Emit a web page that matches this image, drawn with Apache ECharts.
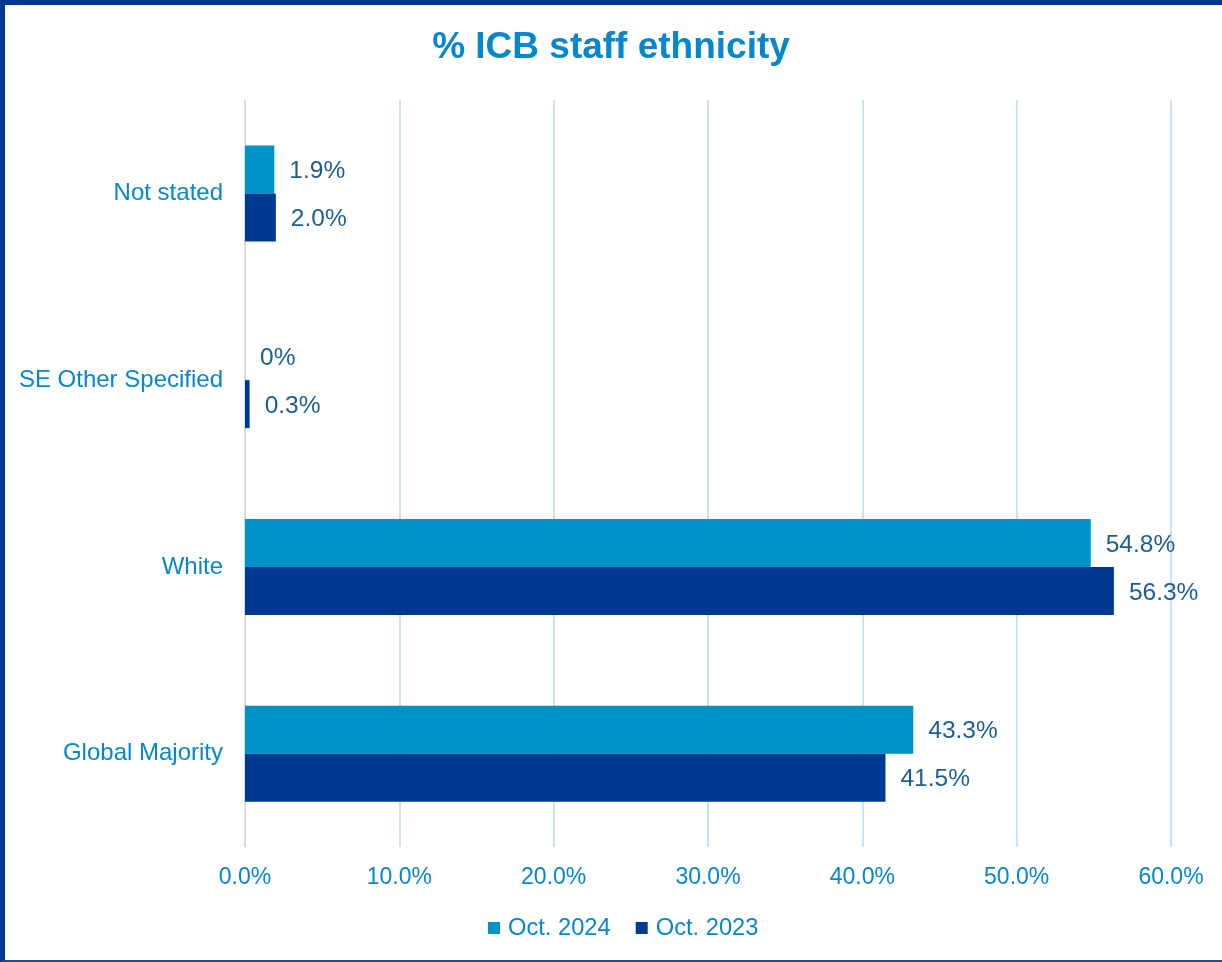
<!DOCTYPE html>
<html><head><meta charset="utf-8">
<script src="https://cdn.jsdelivr.net/npm/echarts@6/dist/echarts.min.js"></script>
<style>
html,body{margin:0;padding:0;background:#fff;}
#frame{position:absolute;left:0;top:0;width:1222px;height:962px;box-sizing:border-box;border-top:5px solid #003893;border-left:5px solid #003893;border-bottom:2px solid #1F4E8C;}
#c{position:absolute;left:0;top:0;width:1222px;height:962px;}
</style></head>
<body>
<div id="c"></div>
<div id="frame"></div>
<script>
const categories = ['Global Majority', 'White', 'SE Other Specified', 'Not stated'];
const oct2024 = [43.3, 54.8, 0, 1.9];
const oct2023 = [41.5, 56.3, 0.3, 2.0];
const xTicks = [0, 10, 20, 30, 40, 50, 60];

const FF = '"Liberation Sans", Arial, sans-serif';
const chart = echarts.init(document.getElementById('c'));
const fmt = p => (p.value === 0 ? '0%' : p.value.toFixed(1) + '%');
const labelStyle = {show: true, position: 'right', distance: 15, color: '#1C5E94', fontSize: 24.5, fontFamily: FF, formatter: fmt, offset: [0, 2]};
chart.setOption({
  animation: false,
  title: {text: '% ICB staff ethnicity', left: 'center', top: 24,
    textStyle: {color: '#0587CF', fontSize: 37, fontWeight: 'bold', fontFamily: FF}},
  legend: {data: ['Oct. 2024', 'Oct. 2023'], bottom: 22, left: 488, padding: 0, itemWidth: 12, itemHeight: 12, itemGap: 25,
    icon: 'rect', textStyle: {color: '#0587CF', fontSize: 23.7, fontFamily: FF, padding: [0, 0, 0, 3]}},
  grid: {left: 245, right: 51, top: 100, bottom: 115, containLabel: false},
  xAxis: {type: 'value', min: 0, max: 60, interval: 10,
    axisLabel: {formatter: v => v.toFixed(1) + '%', color: '#0587CF', fontSize: 23, margin: 19, fontFamily: FF},
    splitLine: {lineStyle: {color: '#C6E4F6', width: 2}},
    axisLine: {show: false}, axisTick: {show: false}},
  yAxis: {type: 'category', data: categories,
    axisLabel: {color: '#0587CF', fontSize: 24, margin: 22, fontFamily: FF, padding: [4, 0, 0, 0]},
    axisLine: {show: true, lineStyle: {color: '#D9D9D9', width: 1}}, axisTick: {show: false}},
  series: [
    {name: 'Oct. 2024', type: 'bar', data: oct2024, barWidth: 48, barGap: '0%', itemStyle: {color: '#0093C9'}, label: labelStyle},
    {name: 'Oct. 2023', type: 'bar', data: oct2023, barWidth: 48, barGap: '0%', itemStyle: {color: '#003893'}, label: labelStyle}
  ]
});
</script>
</body></html>
